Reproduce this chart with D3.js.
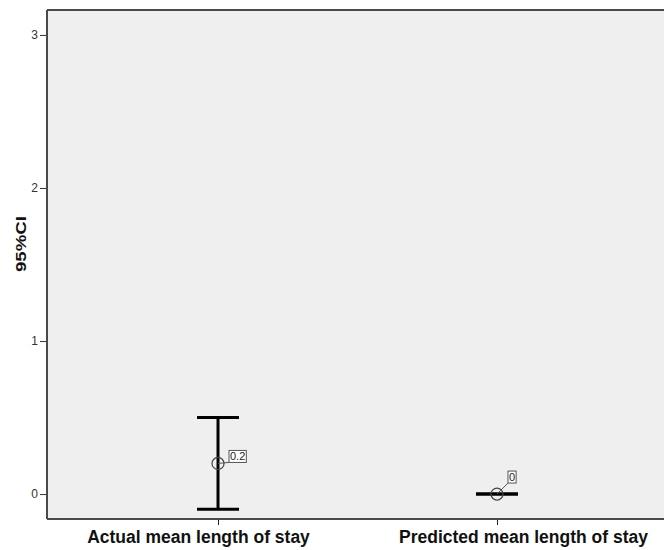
<!DOCTYPE html>
<html>
<head>
<meta charset="utf-8">
<script src="https://cdn.jsdelivr.net/npm/d3@7"></script>
<style>
  body { margin: 0; background: #fff; }
  svg { display: block; font-family: "Liberation Sans", Arial, sans-serif; }
</style>
</head>
<body>
<svg id="chart" width="664" height="550"></svg>
<script>
// Mean length of stay with 95% confidence interval
const categories = ["Actual mean length of stay", "Predicted mean length of stay"];
const means = [0.2, 0];
const lower = [-0.1, 0];
const upper = [0.5, 0];
const valueLabels = ["0.2", "0"];
const yTicks = [0, 1, 2, 3];

const svg = d3.select("#chart");
const plot = { left: 47, top: 10, right: 668, bottom: 519 };

const x = d3.scalePoint()
  .domain(categories)
  .range([plot.left, plot.right])
  .padding(0.613);

const y = d3.scaleLinear()
  .domain([-0.163, 3.163])
  .range([plot.bottom, plot.top]);

// plot background
svg.append("rect")
  .attr("x", plot.left).attr("y", plot.top)
  .attr("width", plot.right - plot.left).attr("height", plot.bottom - plot.top)
  .attr("fill", "#eeefee");

// frame lines
const frame = [
  [plot.left, plot.top, plot.right, plot.top],
  [plot.left, plot.top, plot.left, plot.bottom],
  [plot.left, plot.bottom, plot.right, plot.bottom]
];
frame.forEach(([x1, y1, x2, y2]) => {
  svg.append("line")
    .attr("x1", x1).attr("y1", y1).attr("x2", x2).attr("y2", y2)
    .attr("stroke", "#4a4a4a").attr("stroke-width", 2);
});

// y axis
const yAxis = svg.append("g")
  .attr("transform", `translate(${plot.left - 1},0)`)
  .call(d3.axisLeft(y).tickValues(yTicks).tickFormat(d3.format("d")).tickSize(6).tickPadding(2));
yAxis.select(".domain").remove();
yAxis.selectAll(".tick line").attr("stroke", "#333");
yAxis.selectAll(".tick text")
  .attr("fill", "#333").style("font-size", "12px")
  .style("font-family", "'Liberation Sans', Arial, sans-serif");

// x axis
const labelShift = [-20, 26];
const xAxis = svg.append("g")
  .attr("transform", `translate(0,${plot.bottom + 1})`)
  .call(d3.axisBottom(x).tickSize(5).tickPadding(6));
xAxis.select(".domain").remove();
xAxis.selectAll(".tick line").attr("stroke", "#222");
xAxis.selectAll(".tick text")
  .attr("dx", (d, i) => labelShift[i])
  .attr("fill", "#111").style("font-size", "17.5px").style("font-weight", "bold")
  .style("font-family", "'Liberation Sans', Arial, sans-serif");

// y axis title
svg.append("text")
  .attr("transform", "translate(26,244) rotate(-90)")
  .attr("text-anchor", "middle")
  .attr("textLength", 56).attr("lengthAdjust", "spacingAndGlyphs")
  .style("font-size", "15.5px").style("font-weight", "bold")
  .attr("fill", "#111")
  .text("95%CI");

// error bars
const capHalf = 21;
const bars = svg.append("g");
categories.forEach((c, i) => {
  const cx = x(c);
  bars.append("line")
    .attr("x1", cx).attr("x2", cx)
    .attr("y1", y(lower[i])).attr("y2", y(upper[i]))
    .attr("stroke", "#000").attr("stroke-width", 3);
  [lower[i], upper[i]].forEach(v => {
    bars.append("line")
      .attr("x1", cx - capHalf).attr("x2", cx + capHalf)
      .attr("y1", y(v)).attr("y2", y(v))
      .attr("stroke", "#000").attr("stroke-width", 3);
  });
});

// mean markers with value labels
const labelOffsets = [[11, -7], [11, -17]];
categories.forEach((c, i) => {
  const cx = x(c), cy = y(means[i]);
  const [dx, dy] = labelOffsets[i];
  const g = svg.append("g");
  const t = g.append("text")
    .attr("x", cx + dx + 1).attr("y", cy + dy + 4)
    .style("font-size", "11px").attr("fill", "#222")
    .text(valueLabels[i]);
  const bb = t.node().getBBox();
  g.insert("rect", "text")
    .attr("x", bb.x - 1).attr("y", bb.y)
    .attr("width", bb.width + 2).attr("height", bb.height)
    .attr("fill", "#fff").attr("stroke", "#555").attr("stroke-width", 1);
  g.insert("line", "rect")
    .attr("x1", cx).attr("y1", cy)
    .attr("x2", bb.x - 1).attr("y2", bb.y + bb.height)
    .attr("stroke", "#555").attr("stroke-width", 1);
  svg.append("circle")
    .attr("cx", cx).attr("cy", cy).attr("r", 6)
    .attr("fill", "none").attr("stroke", "#444").attr("stroke-width", 1.2);
});
</script>
</body>
</html>
